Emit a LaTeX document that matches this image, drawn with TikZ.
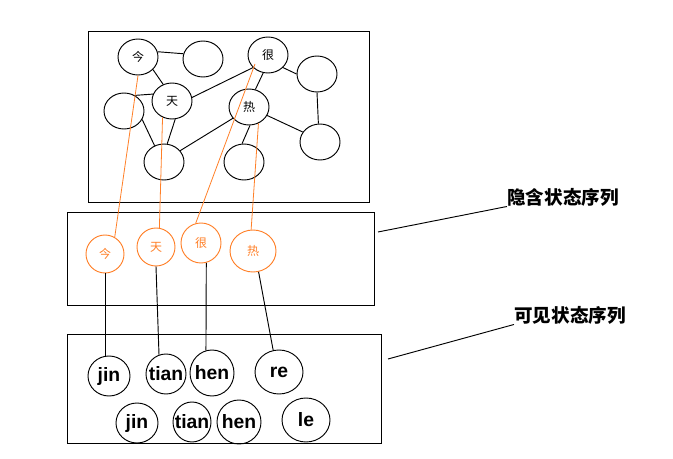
\documentclass[tikz,border=0pt]{standalone}
\usepackage{fontspec}
\setmainfont{Liberation Sans}
\newfontfamily\cjk{Noto Sans CJK SC}
\usetikzlibrary{shapes.geometric}
\definecolor{hmmorange}{RGB}{255,127,39}
\newcommand{\py}[1]{\makebox[0pt]{#1}}

\begin{document}
\begin{tikzpicture}[x=0.75pt, y=-0.75pt, line width=0.7pt,
	state/.style={draw, ellipse, inner sep=0pt, minimum width=30pt, minimum height=27pt, font=\cjk\fontsize{9}{9}\selectfont},
	hiddenstate/.style={state, draw=hmmorange, text=hmmorange, minimum width=28.5pt, minimum height=28.5pt},
	word/.style={draw, ellipse, inner sep=0pt, minimum width=31.5pt, minimum height=30pt, font=\fontsize{14.5}{14.5}\selectfont\bfseries},
	seqlabel/.style={inner sep=0pt, font=\cjk\fontsize{13.9}{13.9}\selectfont\bfseries}]
	\useasboundingbox (0,0) rectangle (673,459);
	
	%%%%% BOXES %%%%%
	\draw (88,31) rectangle (369,202);
	\draw (67,212) rectangle (374,305);
	\draw (67,334) rectangle (381,443);
	
	%%%%% STATE GRAPH %%%%%
	\node[state] (tjin) at (138,57) {今};
	\node[state] (tb1) at (203,59) {};
	\node[state] (thenn) at (268,55) {很};
	\node[state] (trt) at (317,74) {};
	\node[state] (ttian) at (172,101) {天};
	\node[state] (tbl) at (124,111) {};
	\node[state] (thot) at (249,107) {热};
	\node[state] (trm) at (320,142) {};
	\node[state] (tbbl) at (164,162) {};
	\node[state] (tbm) at (244,162) {};
	
	\draw (tjin.15) -- (tb1.165);
	\draw (tjin.-40) -- (ttian.118);
	\draw (tbl.55) -- (ttian.160);
	\draw (tbl.-25) -- (tbbl.120);
	\draw (ttian.-80) -- (tbbl.80);
	\draw (ttian.10) -- (thenn.220);
	\draw (thenn.255) -- (thot.70);
	\draw (thenn.-40) -- (trt.180);
	\draw (trt.-90) -- (trm.95);
	\draw (thot.-25) -- (trm.150);
	\draw (thot.215) -- (tbbl.35);
	\draw (thot.-87) -- (tbm.96);
	
	%%%%% HIDDEN SEQUENCE %%%%%
	\node[hiddenstate] (mjin) at (105,254) {今};
	\node[hiddenstate] (mtian) at (156,247) {天};
	\node[hiddenstate, minimum width=30pt, minimum height=30pt] (mhen) at (201,243) {很};
	\node[hiddenstate, minimum width=34.5pt, minimum height=31.5pt] (mhot) at (253,251) {热};
	
	\draw[hmmorange, line width=0.6pt] (tjin.south) -- (mjin.60);
	\draw[hmmorange, line width=0.6pt] (ttian.240) -- (mtian.80);
	\draw[hmmorange, line width=0.6pt] ([shift={(-13,9)}]thenn.center) -- (mhen.105);
	\draw[hmmorange, line width=0.6pt] (thot.300) -- (mhot.95);
	
	%%%%% VISIBLE SEQUENCE %%%%%
	\node[word] (bjin) at (109,376) {\py{jin}};
	\node[word, minimum width=30pt] (btian) at (166,374) {\py{tian}};
	\node[word, minimum width=33pt, minimum height=34.5pt] (bhen) at (212,373) {\py{hen}};
	\node[word, minimum width=36pt, minimum height=33pt] (bre) at (279,372) {\py{re}};
	\node[word] (bjin2) at (137,423) {\py{jin}};
	\node[word, minimum width=28.5pt] (btian2) at (192,422) {\py{tian}};
	\node[word, minimum width=33pt, minimum height=33pt] (bhen2) at (239,422) {\py{hen}};
	\node[word, minimum width=36pt, minimum height=33pt] (ble) at (306,420) {\py{le}};
	
	\draw (mjin.south) -- (mjin.south |- bjin.north);
	\draw (mtian.south) -- (btian.110);
	\draw (mhen.285) -- (bhen.105);
	\draw (mhot.285) -- (bre.105);
	
	%%%%% LABELS %%%%%
	\node[seqlabel] (hidlabel) at (563,197) {隐含状态序列};
	\node[seqlabel] (vislabel) at (570,315) {可见状态序列};
	\coordinate (hidtip) at (378,232);
	\coordinate (vistip) at (388,359);
	\draw (hidtip) -- (hidlabel.south west);
	\draw (vistip) -- (vislabel.south west);
\end{tikzpicture}
\end{document}
